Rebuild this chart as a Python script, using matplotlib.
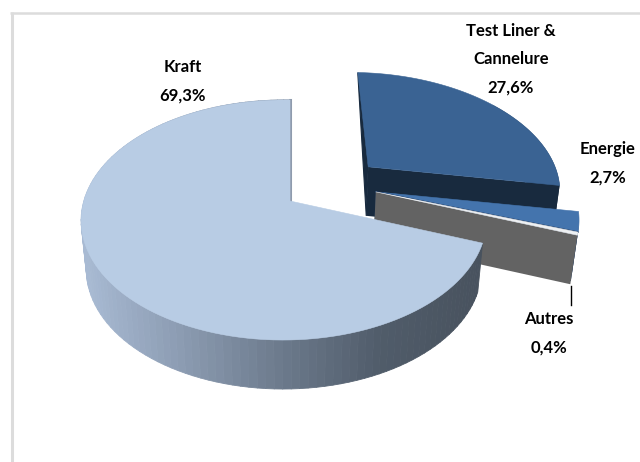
import numpy as np
import matplotlib
matplotlib.use("Agg")
import matplotlib.pyplot as plt
from matplotlib.collections import PolyCollection
from matplotlib.colors import LinearSegmentedColormap
from matplotlib.patches import Polygon

categories = ["Test Liner &\nCannelure", "Energie", "Autres", "Kraft"]
values = [27.6, 2.7, 0.4, 69.3]
value_labels = ["27,6%", "2,7%", "0,4%", "69,3%"]

top_colors = ["#3a6393", "#4474ad", "#eef0f2", "#b8cce4"]
face_colors = ["#182a3e", "#1f3a60", "#636363", "#6c7a8c"]
offsets = [(0.415, 0.31, 1.035), (0.44, 0.08, 1.06), (0.44, 0.08, 1.06), (0, 0, 1)]
label_pos = [(511, 59), (608, 163), (549, 333), (183, 81)]

CX, CY, R, K, P, Q, DEPTH, SHRINK = 290, 201, 200, 117, 0.158, 0.03, 49, 0.975
side_cmap = LinearSegmentedColormap.from_list(
    "side", ["#a8bad3", "#8b9bb1", "#6c7a8c", "#505c6a", "#48525e"])


def project(u, v, down=False):
    w = 1 + P * v + Q * u
    x = CX + R * u / w
    y = CY - K * v / w
    if down:
        x = CX + (x - CX) * SHRINK
        y = y + DEPTH
    return x, y


def wedge_points(a0, a1, off, down=False, n=120):
    du, dv, s = off
    t = np.radians(np.linspace(a0, a1, n))
    return project(du + s * np.sin(t), dv + s * np.cos(t), down)


fig = plt.figure(figsize=(6.4, 4.62), dpi=100)
ax = fig.add_axes([0, 0, 1, 1])
ax.set_xlim(0, 640)
ax.set_ylim(462, 0)
ax.axis("off")

ax.plot([11.5, 11.5], [12, 462], color="#dcdcdc", lw=2.2, solid_capstyle="butt", zorder=1)
ax.plot([10, 640], [12.5, 12.5], color="#dcdcdc", lw=1.8, solid_capstyle="butt", zorder=1)

edges = np.concatenate([[0], np.cumsum(values)]) / np.sum(values) * 360
z = 2
for i in range(len(values)):
    a0, a1, off = edges[i], edges[i + 1], offsets[i]
    ax_x, ax_y = project(off[0], off[1])
    ad_x, ad_y = project(off[0], off[1], True)
    tx, ty = wedge_points(a0, a1, off)
    bx, by = wedge_points(a0, a1, off, True)
    if i == 3:
        # outer wall with a horizontal shading
        quads, shades = [], []
        for k in range(len(tx) - 1):
            quads.append([(tx[k], ty[k]), (tx[k + 1], ty[k + 1]),
                          (bx[k + 1], by[k + 1]), (bx[k], by[k])])
            shades.append(side_cmap(np.clip((tx[k] - 85) / 400, 0, 1)))
        ax.add_collection(PolyCollection(quads, facecolors=shades, edgecolors=shades,
                                         linewidths=0.6, zorder=z))
        # thin shaded cut at the notch
        ax.plot([tx[-1], ax_x], [ty[-1], ax_y], color="#8f9bad", lw=2.2, zorder=z + 0.5)
    else:
        # outer wall: only the part of the arc that faces the viewer
        m = len(tx) // 2
        wall = list(zip(tx[m:], ty[m:])) + list(zip(bx[m:], by[m:]))[::-1]
        ax.add_patch(Polygon(wall, closed=True, fc=face_colors[i], ec="none", zorder=z))
        # cut face at the end of the slice
        ax.add_patch(Polygon([(ax_x, ax_y), (tx[-1], ty[-1]), (bx[-1], by[-1]), (ad_x, ad_y)],
                             closed=True, fc=face_colors[i], ec="none", zorder=z))
        if i == 0:
            # cut face at the start of the slice
            ax.add_patch(Polygon([(tx[0], ty[0]), (ax_x, ax_y), (ad_x, ad_y)],
                                 closed=True, fc=face_colors[i], ec=face_colors[i],
                                 lw=0.8, zorder=z))
    ax.add_patch(Polygon([(ax_x, ax_y)] + list(zip(tx, ty)), closed=True,
                         fc=top_colors[i], ec=top_colors[i], lw=0.4, zorder=z + 1))
    if i == 1:
        ax.plot([ax_x, tx[-1]], [ax_y, ty[-1]], color="#1f3a60", lw=1.0, zorder=z + 1.2)
    z += 2

# leader line to the smallest slice
lx, ly = wedge_points(edges[2], edges[3], offsets[2], True)
ax.plot([lx[-1] + 1, lx[-1] + 1], [ly[-1] + 2, ly[-1] + 21], color="black", lw=1.0, zorder=20)

for cat, lab, (x, y) in zip(categories, value_labels, label_pos):
    ax.text(x, y, f"{cat}\n{lab}", ha="center", va="center", fontsize=12,
            fontweight="bold", family="Lato", color="black", linespacing=1.95, zorder=21)

fig.savefig("out.png", dpi=100)
